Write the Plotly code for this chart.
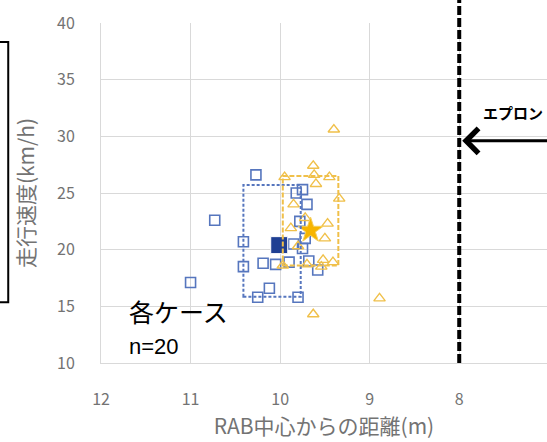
import plotly.graph_objects as go

# Individual runs: distance from the roundabout centre (m) vs. travel speed (km/h)
blue_x = [11.00, 10.73, 10.41, 10.41, 10.27, 10.19, 10.25, 10.12, 9.80, 9.82,
          9.75, 9.58, 9.75, 9.72, 9.68, 9.85, 9.78, 9.90, 10.05, 9.70]
blue_y = [17.1, 22.6, 20.7, 18.5, 26.6, 18.8, 15.8, 16.6, 15.8, 25.0,
          25.3, 18.2, 20.1, 21.0, 19.0, 20.5, 22.5, 18.9, 18.7, 24.0]

gold_x = [9.40, 9.63, 9.62, 9.95, 9.34, 9.88, 9.47, 9.52, 9.41, 9.54,
          9.97, 9.63, 8.89, 9.80, 9.72, 9.60, 9.50, 9.85, 9.45, 9.70]
gold_y = [30.6, 27.4, 26.6, 26.4, 24.5, 21.9, 22.3, 19.1, 18.9, 18.5,
          18.6, 14.3, 15.7, 20.3, 22.8, 25.8, 21.0, 24.0, 26.4, 18.7]

# Case means
blue_mean = (10.01, 20.4)
gold_mean = (9.66, 21.7)

# Spread boxes: (x_from, x_to, y_from, y_to)
blue_box = (10.41, 9.77, 15.85, 25.7)
gold_box = (9.97, 9.35, 18.6, 26.5)

apron_x = 8.0       # apron edge position
apron_arrow_y = 29.6

x_ticks = [12, 11, 10, 9, 8, 7]
y_ticks = [10, 15, 20, 25, 30, 35, 40]

BLUE = "#5676BE"
NAVY = "#1F3F93"
GOLD = "#F0C04A"
GRID = "#D9D9D9"
TXT = "#737373"
JP = "Noto Sans CJK JP"

fig = go.Figure()

fig.add_trace(go.Scatter(
    x=blue_x, y=blue_y, mode="markers",
    marker=dict(symbol="square-open", size=10, color=BLUE, line=dict(width=1.6)),
    showlegend=False))
fig.add_trace(go.Scatter(
    x=gold_x, y=gold_y, mode="markers",
    marker=dict(symbol="triangle-up-open", size=10, color=GOLD, line=dict(width=1.4)),
    showlegend=False))

fig.add_shape(type="rect", xref="x", yref="y",
              x0=blue_box[0], x1=blue_box[1], y0=blue_box[2], y1=blue_box[3],
              line=dict(color=BLUE, width=2, dash="3px,2px"))
fig.add_shape(type="rect", xref="x", yref="y",
              x0=gold_box[0], x1=gold_box[1], y0=gold_box[2], y1=gold_box[3],
              line=dict(color=GOLD, width=2, dash="5px,2px"))

fig.add_trace(go.Scatter(
    x=[blue_mean[0]], y=[blue_mean[1]], mode="markers",
    marker=dict(symbol="square", size=17, color=NAVY, line=dict(color="white", width=1)),
    showlegend=False))
fig.add_trace(go.Scatter(
    x=[gold_mean[0]], y=[gold_mean[1]], mode="markers",
    marker=dict(symbol="star", size=19, color="#F7B500", line=dict(color="#F5D060", width=1)),
    showlegend=False))

# Apron edge
fig.add_shape(type="line", xref="x", yref="paper",
              x0=apron_x, x1=apron_x, y0=0, y1=1.08,
              line=dict(color="black", width=4, dash="9px,3px"))
fig.add_annotation(x=apron_x, y=apron_arrow_y, ax=6.9, ay=apron_arrow_y,
                   axref="x", ayref="y", xref="x", yref="y", text="",
                   showarrow=True, arrowhead=4, arrowsize=1.6, arrowwidth=3,
                   arrowcolor="black", standoff=3)
fig.add_annotation(x=7.76, y=32.1, xref="x", yref="y", text="<b>エプロン</b>",
                   showarrow=False, xanchor="left", yanchor="middle",
                   font=dict(family=JP, size=15, color="black"))

fig.add_annotation(x=11.71, y=14.6, xref="x", yref="y", text="各ケース",
                   showarrow=False, xanchor="left", yanchor="middle",
                   font=dict(family=JP, size=25, color="black"))
fig.add_annotation(x=11.71, y=11.5, xref="x", yref="y", text="n=20",
                   showarrow=False, xanchor="left", yanchor="middle",
                   font=dict(family="Liberation Sans", size=22, color="black"))

# Frame on the left edge
fig.add_shape(type="rect", xref="paper", yref="paper",
              x0=-0.30, x1=-0.208, y0=0.179, y1=0.944,
              line=dict(color="black", width=2))

fig.update_xaxes(range=[12, 7.02], tickvals=x_ticks, ticktext=[str(v) for v in x_ticks],
                 showgrid=True, gridcolor=GRID, gridwidth=1,
                 showline=True, linecolor=GRID, zeroline=False,
                 ticklabelstandoff=22,
                 tickfont=dict(family=JP, size=16, color=TXT),
                 title=dict(text="RAB中心からの距離(m)", standoff=4,
                            font=dict(family=JP, size=21, color=TXT)))
fig.update_yaxes(range=[10, 40], tickvals=y_ticks,
                 showgrid=True, gridcolor=GRID, gridwidth=1,
                 showline=True, linecolor=GRID, zeroline=False,
                 ticklabelstandoff=22,
                 tickfont=dict(family=JP, size=16, color=TXT),
                 title=dict(text="走行速度(km/h)", standoff=16,
                            font=dict(family=JP, size=21, color=TXT)))

fig.update_layout(width=547, height=442,
                  margin=dict(l=101, r=0, t=23, b=79),
                  plot_bgcolor="white", paper_bgcolor="white")

fig.write_html("out.html")
